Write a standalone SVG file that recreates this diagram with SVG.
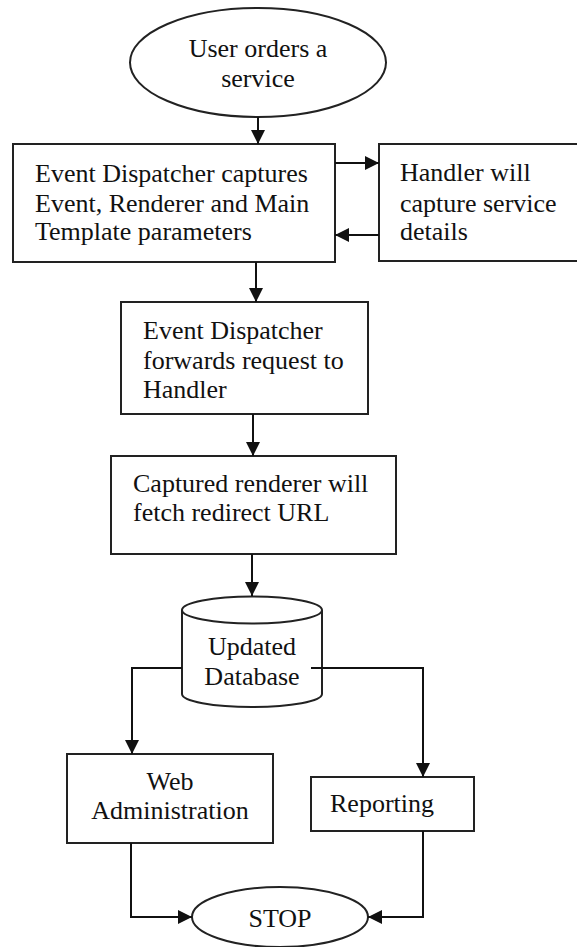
<svg xmlns="http://www.w3.org/2000/svg" width="577" height="947" viewBox="0 0 577 947">
<style>
.shape{fill:#fff;stroke:#222;stroke-width:2}
.t{font-family:"Liberation Serif","Times New Roman",serif;font-size:26px;fill:#111}
.c{text-anchor:middle}
.conn{fill:none;stroke:#111;stroke-width:2}
</style>
<defs>
<marker id="ah" viewBox="0 0 14 14" refX="14" refY="7" markerWidth="14" markerHeight="14" markerUnits="userSpaceOnUse" orient="auto">
<path d="M0,0 L14,7 L0,14 z" fill="#111"/>
</marker>
</defs>
<rect width="577" height="947" fill="#fff"/>
<g id="start">
<ellipse class="shape" cx="258" cy="62.5" rx="128" ry="54.5"/>
<text class="t c" x="258" y="57">User orders a</text>
<text class="t c" x="258" y="87">service</text>
</g>
<g id="capture">
<rect class="shape" x="13" y="144" width="322" height="118"/>
<text class="t" x="35" y="182">Event Dispatcher captures</text>
<text class="t" x="35" y="212">Event, Renderer and Main</text>
<text class="t" x="35" y="240">Template parameters</text>
</g>
<g id="handler">
<rect class="shape" x="379" y="144" width="205" height="117"/>
<text class="t" x="400" y="181">Handler will</text>
<text class="t" x="400" y="212">capture service</text>
<text class="t" x="400" y="240">details</text>
</g>
<g id="forward">
<rect class="shape" x="121" y="302" width="247" height="112"/>
<text class="t" x="143" y="339">Event Dispatcher</text>
<text class="t" x="143" y="369">forwards request to</text>
<text class="t" x="143" y="398">Handler</text>
</g>
<g id="renderer">
<rect class="shape" x="111" y="456" width="285" height="98"/>
<text class="t" x="133" y="492">Captured renderer will</text>
<text class="t" x="133" y="521">fetch redirect URL</text>
</g>
<g id="database">
<path class="shape" d="M182,610 A70,13.5 0 0 1 322,610 L322,694 A70,13 0 0 1 182,694 Z"/>
<path class="shape" d="M182,610 A70,13.5 0 0 0 322,610"/>
<text class="t c" x="252" y="655">Updated</text>
<text class="t c" x="252" y="685">Database</text>
</g>
<g id="webadmin">
<rect class="shape" x="67" y="754" width="206" height="89"/>
<text class="t c" x="170" y="790">Web</text>
<text class="t c" x="170" y="819">Administration</text>
</g>
<g id="reporting">
<rect class="shape" x="311" y="777" width="163" height="54"/>
<text class="t" x="330" y="812">Reporting</text>
</g>
<g id="stop">
<ellipse class="shape" cx="280" cy="917" rx="88" ry="30"/>
<text class="t c" x="280" y="927">STOP</text>
</g>
<g id="connectors">
<path class="conn" marker-end="url(#ah)" d="M258,117 L258,144"/>
<path class="conn" marker-end="url(#ah)" d="M335,163 L379,163"/>
<path class="conn" marker-end="url(#ah)" d="M379,235 L335,235"/>
<path class="conn" marker-end="url(#ah)" d="M256,262 L256,302"/>
<path class="conn" marker-end="url(#ah)" d="M253,414 L253,456"/>
<path class="conn" marker-end="url(#ah)" d="M252,554 L252,596"/>
<path class="conn" marker-end="url(#ah)" d="M182,668 L132,668 L132,754"/>
<path class="conn" marker-end="url(#ah)" d="M311,668 L423,668 L423,777"/>
<path class="conn" marker-end="url(#ah)" d="M131,843 L131,917 L192,917"/>
<path class="conn" marker-end="url(#ah)" d="M423,831 L423,917 L368,917"/>
</g>
</svg>
